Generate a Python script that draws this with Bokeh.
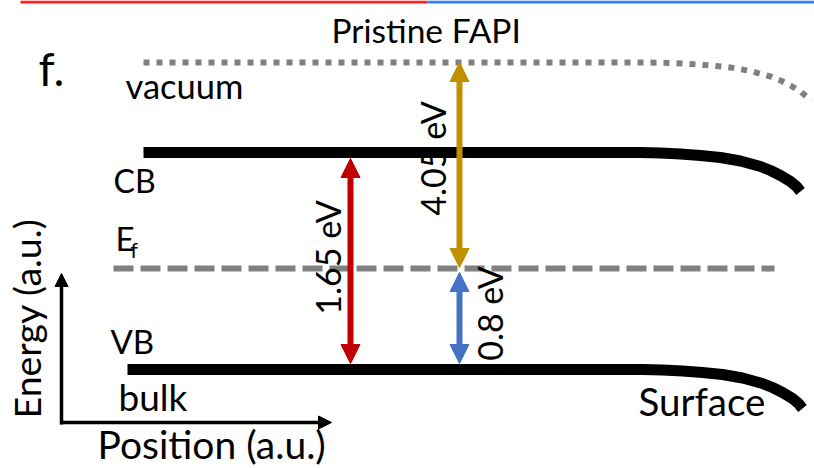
import numpy as np
from bokeh.plotting import figure
from bokeh.models import Range1d, Arrow, NormalHead
from bokeh.core.properties import value
from bokeh.embed import file_html
from bokeh.resources import INLINE

FONT = "Lato"
BASE_SHIFT = 0.37   # baseline correction for the renderer, in em

# ---- band levels (diagram units, y grows downward) ----
level_names = ["vacuum", "CB", "Ef", "VB"]
level_y = [62, 152, 268, 369]
level_x_start = [143, 143, 113, 127]
level_x_bend = [650, 640, 774, 642]       # where surface band bending starts
level_bends = [True, True, False, True]

# band bending (offset from bend start)
bend_dx = [0, 20, 40, 60, 80, 100, 120, 130, 140, 150, 156, 160]
bend_dy = [0, 0.5, 1.5, 3, 5, 8.5, 14, 18, 23, 29, 34, 39]

# ---- energy gaps ----
gap_labels = ["1.65 eV", "4.05 eV", "0.8 eV"]
gap_x = [350, 459, 459]
gap_top = [158, 62, 272]
gap_bottom = [363, 267, 363]
gap_colors = ["#C00000", "#BF9000", "#4472C4"]
gap_label_x = [327, 432, 489]
gap_label_y = [257, 158, 313]

# ---- labels (x, baseline y, size in px) ----
label_text = ["Pristine FAPI", "f.", "vacuum", "CB", "E", "f", "VB", "bulk", "Surface", "Position (a.u.)"]
label_x = [331, 38, 125, 113, 115, 130, 110, 118, 638, 97]
label_y = [42, 85, 98, 192, 250, 257, 353, 410, 415, 458]
label_size = [33.5, 46, 34.5, 32, 33, 21, 33, 37, 38.5, 39]

p = figure(width=814, height=468, output_backend="svg", toolbar_location=None,
           x_range=Range1d(0, 814), y_range=Range1d(468, 0),
           x_axis_type=None, y_axis_type=None, min_border=0)
p.grid.visible = False
p.outline_line_color = None
p.background_fill_color = "white"

# top colour bars
p.segment(x0=[20, 427], y0=[1.5, 1.5], x1=[427, 814], y1=[1.5, 1.5],
          line_color=["#FF2020", "#2F7FFF"], line_width=3)

# band lines
for name, y0, xs, xb, bends in zip(level_names, level_y, level_x_start, level_x_bend, level_bends):
    if bends:
        xx = [xs] + [xb + d for d in bend_dx]
        yy = [y0] + [y0 + d for d in bend_dy]
    else:
        xx = [xs, xb]
        yy = [y0, y0]
    if name == "vacuum":
        p.line(xx, yy, line_color="#808080", line_width=6, line_dash="6 7", line_join="round")
    elif name == "Ef":
        p.line(xx, yy, line_color="#808080", line_width=6, line_dash="20 7")
    else:
        p.line(xx, yy, line_color="black", line_width=11, line_join="round")

# gap arrows
for x, t, b, c in zip(gap_x, gap_top, gap_bottom, gap_colors):
    p.add_layout(Arrow(x_start=x, y_start=b, x_end=x, y_end=t, line_color=c, line_width=6,
                       start=NormalHead(size=19, fill_color=c, line_color=c, line_width=1),
                       end=NormalHead(size=19, fill_color=c, line_color=c, line_width=1)))

p.text(x=gap_label_x, y=gap_label_y, text=gap_labels, angle=np.pi / 2,
       text_align="center", text_baseline="middle", text_font=value(FONT),
       text_font_size="34px", text_color="black")

# horizontal labels
for t, x, y, s in zip(label_text, label_x, label_y, label_size):
    p.text(x=[x], y=[y - BASE_SHIFT * s], text=[t], text_align="left", text_baseline="alphabetic",
           text_font=value(FONT), text_font_size=f"{s}px", text_color="black")

# schematic axes
p.add_layout(Arrow(x_start=61, y_start=424, x_end=61, y_end=273, line_color="black", line_width=3.5,
                   end=NormalHead(size=13, fill_color="black", line_color="black", line_width=1)))
p.add_layout(Arrow(x_start=59.5, y_start=422, x_end=331, y_end=422, line_color="black", line_width=3.5,
                   end=NormalHead(size=13, fill_color="black", line_color="black", line_width=1)))
energy_size = 37.5
p.text(x=[40 - BASE_SHIFT * energy_size], y=[418], text=["Energy (a.u.)"], angle=np.pi / 2,
       text_align="left", text_baseline="alphabetic", text_font=value(FONT),
       text_font_size=f"{energy_size}px", text_color="black")

open("out.html", "w").write(file_html(p, INLINE))
